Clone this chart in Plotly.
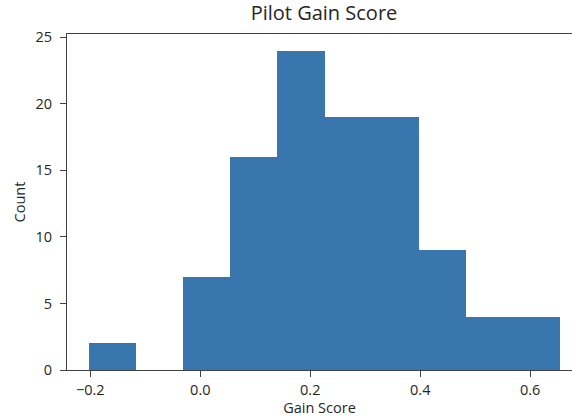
import plotly.graph_objects as go

# Histogram data
bin_edges = [-0.2024, -0.1167, -0.0310, 0.0547, 0.1404, 0.2261,
             0.3117, 0.3974, 0.4831, 0.5688, 0.6545]
counts = [2, 0, 7, 16, 24, 19, 19, 9, 4, 4]
x_ticks = [-0.2, 0.0, 0.2, 0.4, 0.6]
x_tick_labels = ["\u22120.2", "0.0", "0.2", "0.4", "0.6"]
y_ticks = [0, 5, 10, 15, 20, 25]

centers = [(a + b) / 2 for a, b in zip(bin_edges[:-1], bin_edges[1:])]
widths = [b - a for a, b in zip(bin_edges[:-1], bin_edges[1:])]

fig = go.Figure(go.Bar(
    x=centers, y=counts, width=widths,
    marker=dict(color="#3a76ae", line=dict(width=0)),
    hoverinfo="x+y",
))

FONT = "Open Sans, Noto Sans, DejaVu Sans, sans-serif"
fig.update_layout(
    width=572, height=420,
    margin=dict(l=67, r=0, t=34, b=50, autoexpand=False),
    paper_bgcolor="white", plot_bgcolor="white",
    bargap=0,
    showlegend=False,
    font=dict(family=FONT, size=14.5, color="#262626"),
    title=dict(text="Pilot Gain Score", x=324 / 572, xref="container", xanchor="center",
               y=1, yref="container", yanchor="top", pad=dict(t=6),
               font=dict(size=20, color="#262626")),
)
fig.update_xaxes(
    range=[-0.2424, 0.676],
    tickvals=x_ticks, ticktext=x_tick_labels,
    showgrid=False, zeroline=False, automargin=False,
    showline=True, linecolor="#404040", linewidth=1.2, mirror=True,
    ticks="outside", ticklen=6, tickcolor="#404040",
    tickfont=dict(size=14.5),
    title=dict(text="Gain Score", font=dict(size=14.5), standoff=4),
)
fig.update_yaxes(
    range=[0, 25.25],
    tickvals=y_ticks,
    showgrid=False, zeroline=False, automargin=False,
    showline=True, linecolor="#404040", linewidth=1.2, mirror=False,
    ticks="outside", ticklen=6, tickcolor="#404040",
    tickfont=dict(size=14.5), ticklabelstandoff=5,
    title=dict(text="Count", font=dict(size=14.5), standoff=6),
)

fig.write_html(
    "out.html",
    config={"displayModeBar": False},
    post_script="document.body.style.margin='0';document.body.style.overflow='hidden';",
)
